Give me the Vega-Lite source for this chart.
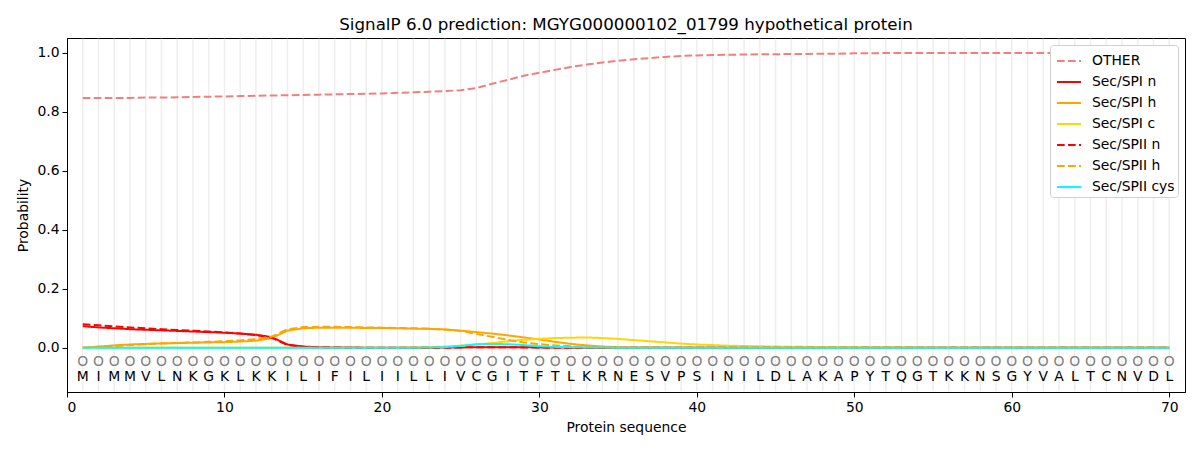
{
  "$schema": "https://vega.github.io/schema/vega-lite/v6.json",
  "width": 1118,
  "height": 354,
  "autosize": {"type": "none"},
  "padding": {"left": 67, "top": 38, "right": 15, "bottom": 58},
  "title": {"text": "SignalP 6.0 prediction: MGYG000000102_01799 hypothetical protein", "fontSize": 16.7, "font": "DejaVu Sans", "fontWeight": "normal", "color": "black", "offset": 4},
  "config": {
    "font": "DejaVu Sans",
    "view": {"stroke": "black", "strokeWidth": 1},
    "axis": {"grid": false, "domainColor": "black", "tickColor": "black", "tickSize": 5, "labelFontSize": 13.9, "titleFontSize": 13.9, "labelColor": "black", "titleColor": "black", "titleFontWeight": "normal", "labelFont": "DejaVu Sans", "titleFont": "DejaVu Sans", "labelPadding": 3},
    "axisX": {"titlePadding": 7},
    "axisY": {"titlePadding": 6},
    "legend": {"orient": "top-right", "offset": 7, "padding": 3, "fillColor": "white", "strokeColor": "#d0d0d0", "cornerRadius": 3, "labelFontSize": 13.9, "labelFont": "DejaVu Sans", "labelColor": "black", "symbolType": "stroke", "symbolSize": 576, "symbolStrokeWidth": 2, "symbolOffset": 3, "labelOffset": 10, "rowPadding": 1}
  },
  "datasets": {
    "rows": [
      {"pos":1,"aa":"M","OTHER":0.847,"Sec/SPI n":0.073,"Sec/SPI h":0.000,"Sec/SPI c":0.000,"Sec/SPII n":0.080,"Sec/SPII h":0.000,"Sec/SPII cys":0.000},
      {"pos":2,"aa":"I","OTHER":0.847,"Sec/SPI n":0.069,"Sec/SPI h":0.004,"Sec/SPI c":0.000,"Sec/SPII n":0.076,"Sec/SPII h":0.003,"Sec/SPII cys":0.000},
      {"pos":3,"aa":"M","OTHER":0.847,"Sec/SPI n":0.066,"Sec/SPI h":0.008,"Sec/SPI c":0.000,"Sec/SPII n":0.072,"Sec/SPII h":0.006,"Sec/SPII cys":0.000},
      {"pos":4,"aa":"M","OTHER":0.847,"Sec/SPI n":0.063,"Sec/SPI h":0.011,"Sec/SPI c":0.000,"Sec/SPII n":0.069,"Sec/SPII h":0.009,"Sec/SPII cys":0.000},
      {"pos":5,"aa":"V","OTHER":0.848,"Sec/SPI n":0.061,"Sec/SPI h":0.013,"Sec/SPI c":0.000,"Sec/SPII n":0.066,"Sec/SPII h":0.012,"Sec/SPII cys":0.000},
      {"pos":6,"aa":"L","OTHER":0.848,"Sec/SPI n":0.059,"Sec/SPI h":0.015,"Sec/SPI c":0.000,"Sec/SPII n":0.063,"Sec/SPII h":0.014,"Sec/SPII cys":0.000},
      {"pos":7,"aa":"N","OTHER":0.849,"Sec/SPI n":0.057,"Sec/SPI h":0.016,"Sec/SPI c":0.000,"Sec/SPII n":0.060,"Sec/SPII h":0.016,"Sec/SPII cys":0.000},
      {"pos":8,"aa":"K","OTHER":0.850,"Sec/SPI n":0.055,"Sec/SPI h":0.017,"Sec/SPI c":0.000,"Sec/SPII n":0.058,"Sec/SPII h":0.018,"Sec/SPII cys":0.000},
      {"pos":9,"aa":"G","OTHER":0.851,"Sec/SPI n":0.053,"Sec/SPI h":0.018,"Sec/SPI c":0.000,"Sec/SPII n":0.055,"Sec/SPII h":0.020,"Sec/SPII cys":0.000},
      {"pos":10,"aa":"K","OTHER":0.852,"Sec/SPI n":0.051,"Sec/SPI h":0.019,"Sec/SPI c":0.000,"Sec/SPII n":0.052,"Sec/SPII h":0.022,"Sec/SPII cys":0.000},
      {"pos":11,"aa":"L","OTHER":0.853,"Sec/SPI n":0.048,"Sec/SPI h":0.021,"Sec/SPI c":0.000,"Sec/SPII n":0.048,"Sec/SPII h":0.025,"Sec/SPII cys":0.000},
      {"pos":12,"aa":"K","OTHER":0.854,"Sec/SPI n":0.044,"Sec/SPI h":0.024,"Sec/SPI c":0.000,"Sec/SPII n":0.043,"Sec/SPII h":0.029,"Sec/SPII cys":0.000},
      {"pos":13,"aa":"K","OTHER":0.855,"Sec/SPI n":0.036,"Sec/SPI h":0.033,"Sec/SPI c":0.000,"Sec/SPII n":0.034,"Sec/SPII h":0.038,"Sec/SPII cys":0.000},
      {"pos":14,"aa":"I","OTHER":0.856,"Sec/SPI n":0.011,"Sec/SPI h":0.058,"Sec/SPI c":0.000,"Sec/SPII n":0.009,"Sec/SPII h":0.063,"Sec/SPII cys":0.000},
      {"pos":15,"aa":"L","OTHER":0.857,"Sec/SPI n":0.004,"Sec/SPI h":0.066,"Sec/SPI c":0.000,"Sec/SPII n":0.003,"Sec/SPII h":0.070,"Sec/SPII cys":0.000},
      {"pos":16,"aa":"I","OTHER":0.858,"Sec/SPI n":0.002,"Sec/SPI h":0.068,"Sec/SPI c":0.000,"Sec/SPII n":0.001,"Sec/SPII h":0.071,"Sec/SPII cys":0.000},
      {"pos":17,"aa":"F","OTHER":0.859,"Sec/SPI n":0.001,"Sec/SPI h":0.068,"Sec/SPI c":0.000,"Sec/SPII n":0.001,"Sec/SPII h":0.071,"Sec/SPII cys":0.000},
      {"pos":18,"aa":"I","OTHER":0.860,"Sec/SPI n":0.001,"Sec/SPI h":0.068,"Sec/SPI c":0.000,"Sec/SPII n":0.000,"Sec/SPII h":0.070,"Sec/SPII cys":0.000},
      {"pos":19,"aa":"L","OTHER":0.861,"Sec/SPI n":0.000,"Sec/SPI h":0.067,"Sec/SPI c":0.000,"Sec/SPII n":0.000,"Sec/SPII h":0.069,"Sec/SPII cys":0.000},
      {"pos":20,"aa":"I","OTHER":0.862,"Sec/SPI n":0.000,"Sec/SPI h":0.067,"Sec/SPI c":0.000,"Sec/SPII n":0.000,"Sec/SPII h":0.068,"Sec/SPII cys":0.000},
      {"pos":21,"aa":"I","OTHER":0.864,"Sec/SPI n":0.000,"Sec/SPI h":0.066,"Sec/SPI c":0.000,"Sec/SPII n":0.000,"Sec/SPII h":0.067,"Sec/SPII cys":0.000},
      {"pos":22,"aa":"L","OTHER":0.866,"Sec/SPI n":0.000,"Sec/SPI h":0.065,"Sec/SPI c":0.001,"Sec/SPII n":0.000,"Sec/SPII h":0.066,"Sec/SPII cys":0.000},
      {"pos":23,"aa":"L","OTHER":0.868,"Sec/SPI n":0.000,"Sec/SPI h":0.064,"Sec/SPI c":0.002,"Sec/SPII n":0.000,"Sec/SPII h":0.064,"Sec/SPII cys":0.001},
      {"pos":24,"aa":"I","OTHER":0.870,"Sec/SPI n":0.001,"Sec/SPI h":0.062,"Sec/SPI c":0.004,"Sec/SPII n":0.000,"Sec/SPII h":0.062,"Sec/SPII cys":0.002},
      {"pos":25,"aa":"V","OTHER":0.873,"Sec/SPI n":0.001,"Sec/SPI h":0.058,"Sec/SPI c":0.007,"Sec/SPII n":0.001,"Sec/SPII h":0.057,"Sec/SPII cys":0.006},
      {"pos":26,"aa":"C","OTHER":0.880,"Sec/SPI n":0.002,"Sec/SPI h":0.053,"Sec/SPI c":0.011,"Sec/SPII n":0.002,"Sec/SPII h":0.047,"Sec/SPII cys":0.012},
      {"pos":27,"aa":"G","OTHER":0.895,"Sec/SPI n":0.002,"Sec/SPI h":0.048,"Sec/SPI c":0.016,"Sec/SPII n":0.002,"Sec/SPII h":0.037,"Sec/SPII cys":0.013},
      {"pos":28,"aa":"I","OTHER":0.908,"Sec/SPI n":0.002,"Sec/SPI h":0.042,"Sec/SPI c":0.022,"Sec/SPII n":0.002,"Sec/SPII h":0.027,"Sec/SPII cys":0.012},
      {"pos":29,"aa":"T","OTHER":0.922,"Sec/SPI n":0.002,"Sec/SPI h":0.035,"Sec/SPI c":0.027,"Sec/SPII n":0.001,"Sec/SPII h":0.018,"Sec/SPII cys":0.009},
      {"pos":30,"aa":"F","OTHER":0.932,"Sec/SPI n":0.001,"Sec/SPI h":0.028,"Sec/SPI c":0.030,"Sec/SPII n":0.001,"Sec/SPII h":0.012,"Sec/SPII cys":0.005},
      {"pos":31,"aa":"T","OTHER":0.942,"Sec/SPI n":0.001,"Sec/SPI h":0.020,"Sec/SPI c":0.033,"Sec/SPII n":0.000,"Sec/SPII h":0.008,"Sec/SPII cys":0.003},
      {"pos":32,"aa":"L","OTHER":0.952,"Sec/SPI n":0.000,"Sec/SPI h":0.013,"Sec/SPI c":0.034,"Sec/SPII n":0.000,"Sec/SPII h":0.005,"Sec/SPII cys":0.002},
      {"pos":33,"aa":"K","OTHER":0.960,"Sec/SPI n":0.000,"Sec/SPI h":0.008,"Sec/SPI c":0.035,"Sec/SPII n":0.000,"Sec/SPII h":0.003,"Sec/SPII cys":0.001},
      {"pos":34,"aa":"R","OTHER":0.967,"Sec/SPI n":0.000,"Sec/SPI h":0.004,"Sec/SPI c":0.033,"Sec/SPII n":0.000,"Sec/SPII h":0.002,"Sec/SPII cys":0.001},
      {"pos":35,"aa":"N","OTHER":0.973,"Sec/SPI n":0.000,"Sec/SPI h":0.002,"Sec/SPI c":0.030,"Sec/SPII n":0.000,"Sec/SPII h":0.001,"Sec/SPII cys":0.000},
      {"pos":36,"aa":"E","OTHER":0.978,"Sec/SPI n":0.000,"Sec/SPI h":0.001,"Sec/SPI c":0.026,"Sec/SPII n":0.000,"Sec/SPII h":0.000,"Sec/SPII cys":0.000},
      {"pos":37,"aa":"S","OTHER":0.982,"Sec/SPI n":0.000,"Sec/SPI h":0.001,"Sec/SPI c":0.022,"Sec/SPII n":0.000,"Sec/SPII h":0.000,"Sec/SPII cys":0.000},
      {"pos":38,"aa":"V","OTHER":0.986,"Sec/SPI n":0.000,"Sec/SPI h":0.000,"Sec/SPI c":0.018,"Sec/SPII n":0.000,"Sec/SPII h":0.000,"Sec/SPII cys":0.000},
      {"pos":39,"aa":"P","OTHER":0.989,"Sec/SPI n":0.000,"Sec/SPI h":0.000,"Sec/SPI c":0.014,"Sec/SPII n":0.000,"Sec/SPII h":0.000,"Sec/SPII cys":0.000},
      {"pos":40,"aa":"S","OTHER":0.991,"Sec/SPI n":0.000,"Sec/SPI h":0.000,"Sec/SPI c":0.011,"Sec/SPII n":0.000,"Sec/SPII h":0.000,"Sec/SPII cys":0.000},
      {"pos":41,"aa":"I","OTHER":0.992,"Sec/SPI n":0.000,"Sec/SPI h":0.000,"Sec/SPI c":0.009,"Sec/SPII n":0.000,"Sec/SPII h":0.000,"Sec/SPII cys":0.000},
      {"pos":42,"aa":"N","OTHER":0.993,"Sec/SPI n":0.000,"Sec/SPI h":0.000,"Sec/SPI c":0.007,"Sec/SPII n":0.000,"Sec/SPII h":0.000,"Sec/SPII cys":0.000},
      {"pos":43,"aa":"I","OTHER":0.994,"Sec/SPI n":0.000,"Sec/SPI h":0.000,"Sec/SPI c":0.006,"Sec/SPII n":0.000,"Sec/SPII h":0.000,"Sec/SPII cys":0.000},
      {"pos":44,"aa":"L","OTHER":0.995,"Sec/SPI n":0.000,"Sec/SPI h":0.000,"Sec/SPI c":0.005,"Sec/SPII n":0.000,"Sec/SPII h":0.000,"Sec/SPII cys":0.000},
      {"pos":45,"aa":"D","OTHER":0.995,"Sec/SPI n":0.000,"Sec/SPI h":0.000,"Sec/SPI c":0.004,"Sec/SPII n":0.000,"Sec/SPII h":0.000,"Sec/SPII cys":0.000},
      {"pos":46,"aa":"L","OTHER":0.996,"Sec/SPI n":0.000,"Sec/SPI h":0.000,"Sec/SPI c":0.003,"Sec/SPII n":0.000,"Sec/SPII h":0.000,"Sec/SPII cys":0.000},
      {"pos":47,"aa":"A","OTHER":0.996,"Sec/SPI n":0.000,"Sec/SPI h":0.000,"Sec/SPI c":0.003,"Sec/SPII n":0.000,"Sec/SPII h":0.000,"Sec/SPII cys":0.000},
      {"pos":48,"aa":"K","OTHER":0.997,"Sec/SPI n":0.000,"Sec/SPI h":0.000,"Sec/SPI c":0.002,"Sec/SPII n":0.000,"Sec/SPII h":0.000,"Sec/SPII cys":0.000},
      {"pos":49,"aa":"A","OTHER":0.997,"Sec/SPI n":0.000,"Sec/SPI h":0.000,"Sec/SPI c":0.002,"Sec/SPII n":0.000,"Sec/SPII h":0.000,"Sec/SPII cys":0.000},
      {"pos":50,"aa":"P","OTHER":0.998,"Sec/SPI n":0.000,"Sec/SPI h":0.000,"Sec/SPI c":0.002,"Sec/SPII n":0.000,"Sec/SPII h":0.000,"Sec/SPII cys":0.000},
      {"pos":51,"aa":"Y","OTHER":0.998,"Sec/SPI n":0.000,"Sec/SPI h":0.000,"Sec/SPI c":0.001,"Sec/SPII n":0.000,"Sec/SPII h":0.000,"Sec/SPII cys":0.000},
      {"pos":52,"aa":"T","OTHER":0.999,"Sec/SPI n":0.000,"Sec/SPI h":0.000,"Sec/SPI c":0.001,"Sec/SPII n":0.000,"Sec/SPII h":0.000,"Sec/SPII cys":0.000},
      {"pos":53,"aa":"Q","OTHER":0.999,"Sec/SPI n":0.000,"Sec/SPI h":0.000,"Sec/SPI c":0.001,"Sec/SPII n":0.000,"Sec/SPII h":0.000,"Sec/SPII cys":0.000},
      {"pos":54,"aa":"G","OTHER":0.999,"Sec/SPI n":0.000,"Sec/SPI h":0.000,"Sec/SPI c":0.000,"Sec/SPII n":0.000,"Sec/SPII h":0.000,"Sec/SPII cys":0.000},
      {"pos":55,"aa":"T","OTHER":0.999,"Sec/SPI n":0.000,"Sec/SPI h":0.000,"Sec/SPI c":0.000,"Sec/SPII n":0.000,"Sec/SPII h":0.000,"Sec/SPII cys":0.000},
      {"pos":56,"aa":"K","OTHER":0.999,"Sec/SPI n":0.000,"Sec/SPI h":0.000,"Sec/SPI c":0.000,"Sec/SPII n":0.000,"Sec/SPII h":0.000,"Sec/SPII cys":0.000},
      {"pos":57,"aa":"K","OTHER":0.999,"Sec/SPI n":0.000,"Sec/SPI h":0.000,"Sec/SPI c":0.000,"Sec/SPII n":0.000,"Sec/SPII h":0.000,"Sec/SPII cys":0.000},
      {"pos":58,"aa":"N","OTHER":0.999,"Sec/SPI n":0.000,"Sec/SPI h":0.000,"Sec/SPI c":0.000,"Sec/SPII n":0.000,"Sec/SPII h":0.000,"Sec/SPII cys":0.000},
      {"pos":59,"aa":"S","OTHER":0.999,"Sec/SPI n":0.000,"Sec/SPI h":0.000,"Sec/SPI c":0.000,"Sec/SPII n":0.000,"Sec/SPII h":0.000,"Sec/SPII cys":0.000},
      {"pos":60,"aa":"G","OTHER":0.999,"Sec/SPI n":0.000,"Sec/SPI h":0.000,"Sec/SPI c":0.000,"Sec/SPII n":0.000,"Sec/SPII h":0.000,"Sec/SPII cys":0.000},
      {"pos":61,"aa":"Y","OTHER":0.999,"Sec/SPI n":0.000,"Sec/SPI h":0.000,"Sec/SPI c":0.000,"Sec/SPII n":0.000,"Sec/SPII h":0.000,"Sec/SPII cys":0.000},
      {"pos":62,"aa":"V","OTHER":0.999,"Sec/SPI n":0.000,"Sec/SPI h":0.000,"Sec/SPI c":0.000,"Sec/SPII n":0.000,"Sec/SPII h":0.000,"Sec/SPII cys":0.000},
      {"pos":63,"aa":"A","OTHER":0.999,"Sec/SPI n":0.000,"Sec/SPI h":0.000,"Sec/SPI c":0.000,"Sec/SPII n":0.000,"Sec/SPII h":0.000,"Sec/SPII cys":0.000},
      {"pos":64,"aa":"L","OTHER":0.999,"Sec/SPI n":0.000,"Sec/SPI h":0.000,"Sec/SPI c":0.000,"Sec/SPII n":0.000,"Sec/SPII h":0.000,"Sec/SPII cys":0.000},
      {"pos":65,"aa":"T","OTHER":0.999,"Sec/SPI n":0.000,"Sec/SPI h":0.000,"Sec/SPI c":0.000,"Sec/SPII n":0.000,"Sec/SPII h":0.000,"Sec/SPII cys":0.000},
      {"pos":66,"aa":"C","OTHER":0.999,"Sec/SPI n":0.000,"Sec/SPI h":0.000,"Sec/SPI c":0.000,"Sec/SPII n":0.000,"Sec/SPII h":0.000,"Sec/SPII cys":0.000},
      {"pos":67,"aa":"N","OTHER":0.999,"Sec/SPI n":0.000,"Sec/SPI h":0.000,"Sec/SPI c":0.000,"Sec/SPII n":0.000,"Sec/SPII h":0.000,"Sec/SPII cys":0.000},
      {"pos":68,"aa":"V","OTHER":0.999,"Sec/SPI n":0.000,"Sec/SPI h":0.000,"Sec/SPI c":0.000,"Sec/SPII n":0.000,"Sec/SPII h":0.000,"Sec/SPII cys":0.000},
      {"pos":69,"aa":"D","OTHER":0.999,"Sec/SPI n":0.000,"Sec/SPI h":0.000,"Sec/SPI c":0.000,"Sec/SPII n":0.000,"Sec/SPII h":0.000,"Sec/SPII cys":0.000},
      {"pos":70,"aa":"L","OTHER":0.999,"Sec/SPI n":0.000,"Sec/SPI h":0.000,"Sec/SPI c":0.000,"Sec/SPII n":0.000,"Sec/SPII h":0.000,"Sec/SPII cys":0.000}
    ]
  },
  "data": {"name": "rows"},
  "layer": [
    {
      "mark": {"type": "rule", "color": "#eeeeee", "strokeWidth": 1.5},
      "encoding": {
        "x": {"field": "pos", "type": "quantitative", "title": "Protein sequence", "scale": {"domain": [0, 71], "nice": false, "zero": false}, "axis": {"values": [0, 10, 20, 30, 40, 50, 60, 70]}},
        "y": {"datum": -0.1475, "title": "Probability", "scale": {"domain": [-0.15, 1.05], "nice": false, "zero": false}, "axis": {"values": [0, 0.2, 0.4, 0.6, 0.8, 1.0], "format": ".1f"}},
        "y2": {"datum": 1.0475}
      }
    },
    {
      "transform": [{"fold": ["OTHER", "Sec/SPI n", "Sec/SPI h", "Sec/SPI c", "Sec/SPII n", "Sec/SPII h", "Sec/SPII cys"], "as": ["series", "p"]}],
      "mark": {"type": "line", "strokeWidth": 2, "clip": true},
      "encoding": {
        "x": {"field": "pos", "type": "quantitative", "title": "Protein sequence"},
        "y": {"field": "p", "type": "quantitative", "title": "Probability"},
        "color": {"field": "series", "type": "nominal", "title": null,
          "scale": {"domain": ["OTHER", "Sec/SPI n", "Sec/SPI h", "Sec/SPI c", "Sec/SPII n", "Sec/SPII h", "Sec/SPII cys"], "range": ["#F08080", "#FF0000", "#FFA500", "#FFD700", "#FF0000", "#FFA500", "#00FFFF"]}},
        "strokeDash": {"field": "series", "type": "nominal", "title": null,
          "scale": {"domain": ["OTHER", "Sec/SPI n", "Sec/SPI h", "Sec/SPI c", "Sec/SPII n", "Sec/SPII h", "Sec/SPII cys"], "range": [[7.7, 3.3], [1, 0], [1, 0], [1, 0], [7.7, 3.3], [7.7, 3.3], [1, 0]]}}
      }
    },
    {
      "mark": {"type": "text", "text": "O", "color": "#808080", "fontSize": 13.9, "baseline": "middle", "font": "DejaVu Sans"},
      "encoding": {
        "x": {"field": "pos", "type": "quantitative", "title": "Protein sequence"},
        "y": {"datum": -0.047, "title": "Probability"}
      }
    },
    {
      "mark": {"type": "text", "color": "black", "fontSize": 13.9, "baseline": "middle", "font": "DejaVu Sans"},
      "encoding": {
        "x": {"field": "pos", "type": "quantitative", "title": "Protein sequence"},
        "y": {"datum": -0.1, "title": "Probability"},
        "text": {"field": "aa"}
      }
    }
  ]
}
